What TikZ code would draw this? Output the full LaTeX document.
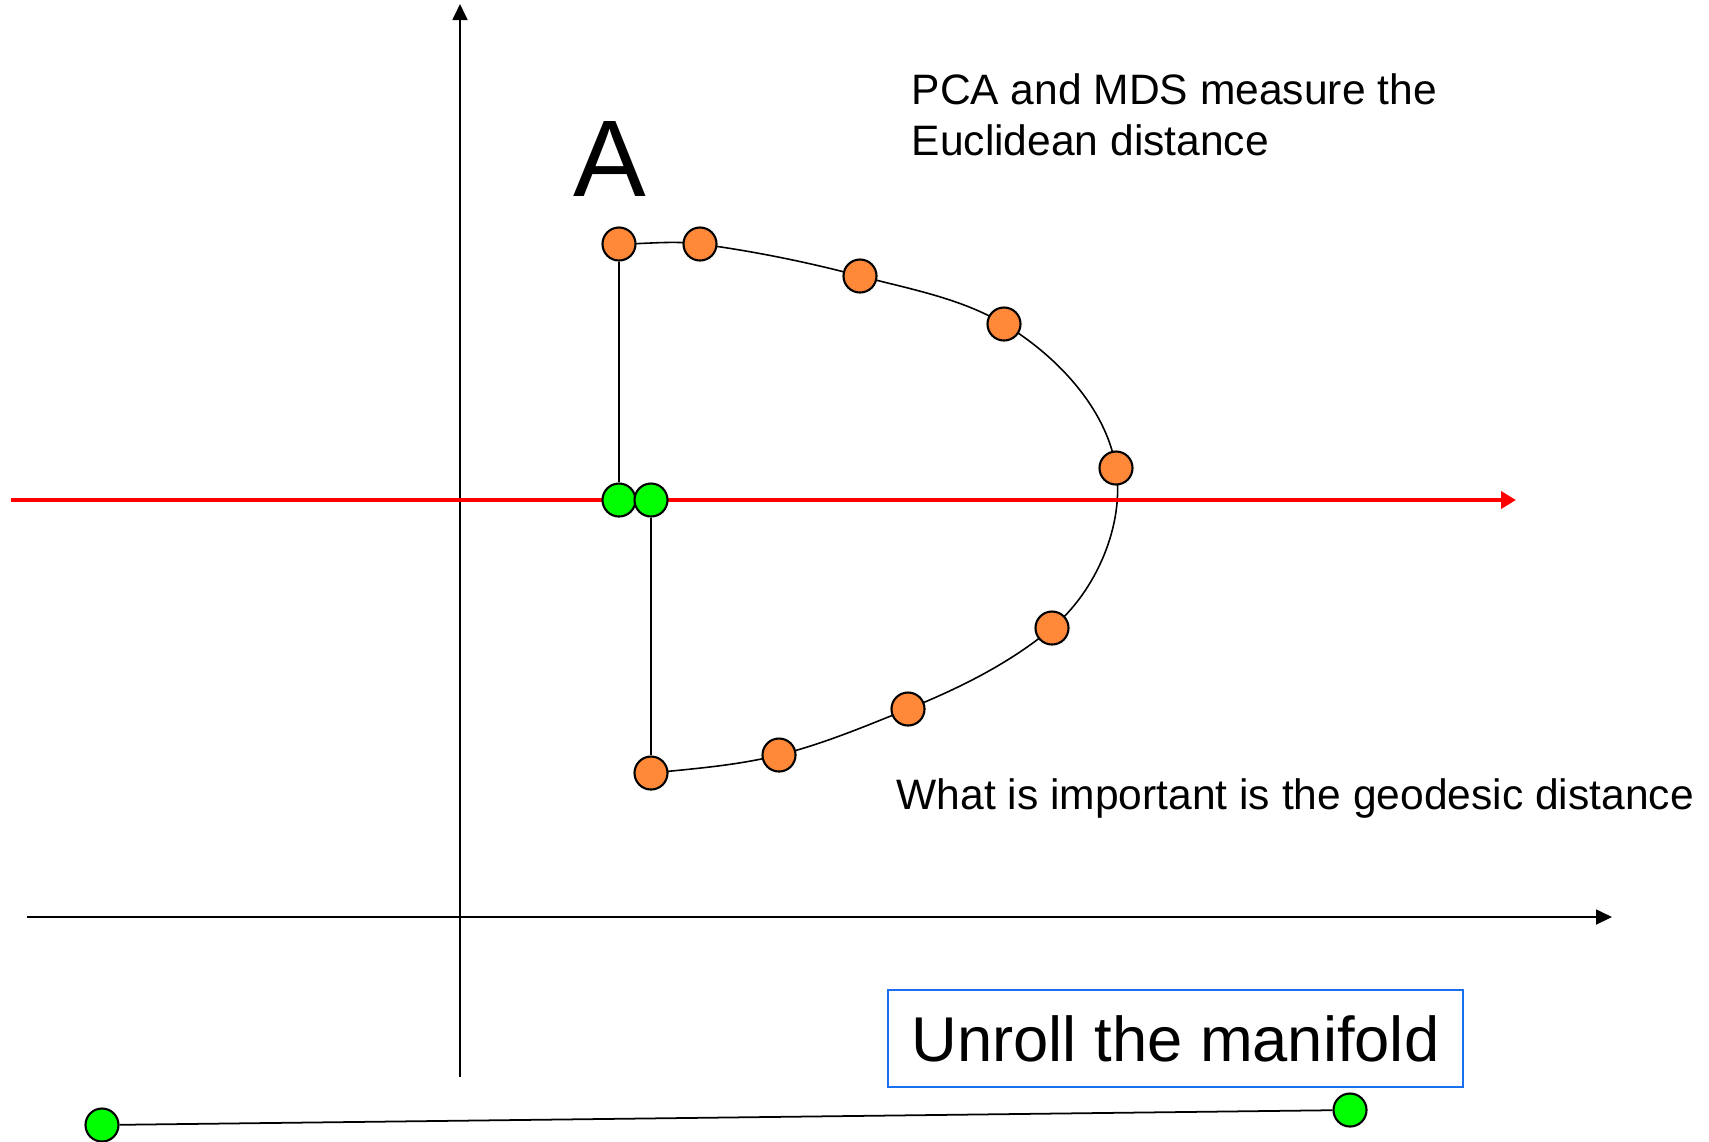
\documentclass[tikz,border=0pt]{standalone}
\usepackage{fontspec}
\setmainfont{Liberation Sans}
\usetikzlibrary{arrows.meta, backgrounds}
\definecolor{dotorange}{RGB}{255,137,56}
\definecolor{dotgreen}{RGB}{0,255,0}
\definecolor{boxblue}{RGB}{26,110,240}

\begin{document}
\begin{tikzpicture}[
  x=0.01cm, y=-0.01cm,
  dot/.style={circle, draw=black, line width=0.6pt, inner sep=0pt, minimum size=0.33cm},
  odot/.style={dot, fill=dotorange},
  gdot/.style={dot, fill=dotgreen},
  axis/.style={-{Triangle[length=0.16cm, width=0.15cm]}, line width=0.5pt},
  proj/.style={-{Triangle[length=0.15cm, width=0.17cm]}, red, line width=1.3pt},
  note/.style={inner sep=0pt, font=\fontsize{12.1}{14.6}\selectfont},
]
\useasboundingbox (0,0) rectangle (1709,1141);

% axes and projection line
\coordinate (yb) at (460,1077);
\coordinate (yt) at (460,4);
\coordinate (xl) at (27,917);
\coordinate (xr) at (1612,917);
\coordinate (pl) at (11,500);
\coordinate (pr) at (1516,500);
\draw[axis] (yb) -- (yt);
\draw[axis] (xl) -- (xr);
\draw[proj] (pl) -- (pr);

% points on the manifold
\node[odot] (o1) at (619,244) {};
\node[odot] (o2) at (700,244) {};
\node[odot] (o3) at (860,276) {};
\node[odot] (o4) at (1004,324) {};
\node[odot] (o5) at (1116,468) {};
\node[odot] (o6) at (1052,628) {};
\node[odot] (o7) at (908,709) {};
\node[odot] (o8) at (779,755) {};
\node[odot] (o9) at (651,773) {};
\node[gdot] (g1) at (619,500) {};
\node[gdot] (g2) at (651,500) {};

% unrolled
\node[gdot] (u1) at (102,1125) {};
\node[gdot] (u2) at (1350,1110) {};

\begin{scope}[on background layer]
\draw[line width=0.45pt] (o1.center)
  .. controls +(27,0) and +(-26.8,-3.6) .. (o2.center)
  .. controls +(53.9,7.2) and +(-52.6,-13.9) .. (o3.center)
  .. controls +(48.9,12.9) and +(-43.4,-26) .. (o4.center)
  .. controls +(52.1,31.3) and +(-9.5,-60.1) .. (o5.center)
  .. controls +(9,56.7) and +(44,-36.9) .. (o6.center)
  .. controls +(-42.2,35.4) and +(51.1,-20.7) .. (o7.center)
  .. controls +(-42.4,17.1) and +(44.3,-11.1) .. (o8.center)
  .. controls +(-41.8,10.4) and +(42.9,-4.3) .. (o9.center);
\draw[line width=0.6pt] (o1) -- (g1);
\draw[line width=0.6pt] (g2) -- (o9);
\draw[line width=0.5pt] (u1) -- (u2);
\end{scope}

% texts
\node[inner sep=0pt, anchor=base, font=\fontsize{31}{36}\selectfont] (A) at (610,196) {A};
\node[note, anchor=north west, align=left] (pca) at (911,73) {PCA and MDS measure the\\Euclidean distance};
\node[note, anchor=base west] (geo) at (896,809) {What is important is the geodesic distance};
\node[draw=boxblue, line width=0.6pt, minimum width=5.75cm, minimum height=0.97cm,
      font=\fontsize{18}{22}\selectfont] (unroll) at (1175.5,1038.5) {Unroll the manifold};
\end{tikzpicture}
\end{document}
